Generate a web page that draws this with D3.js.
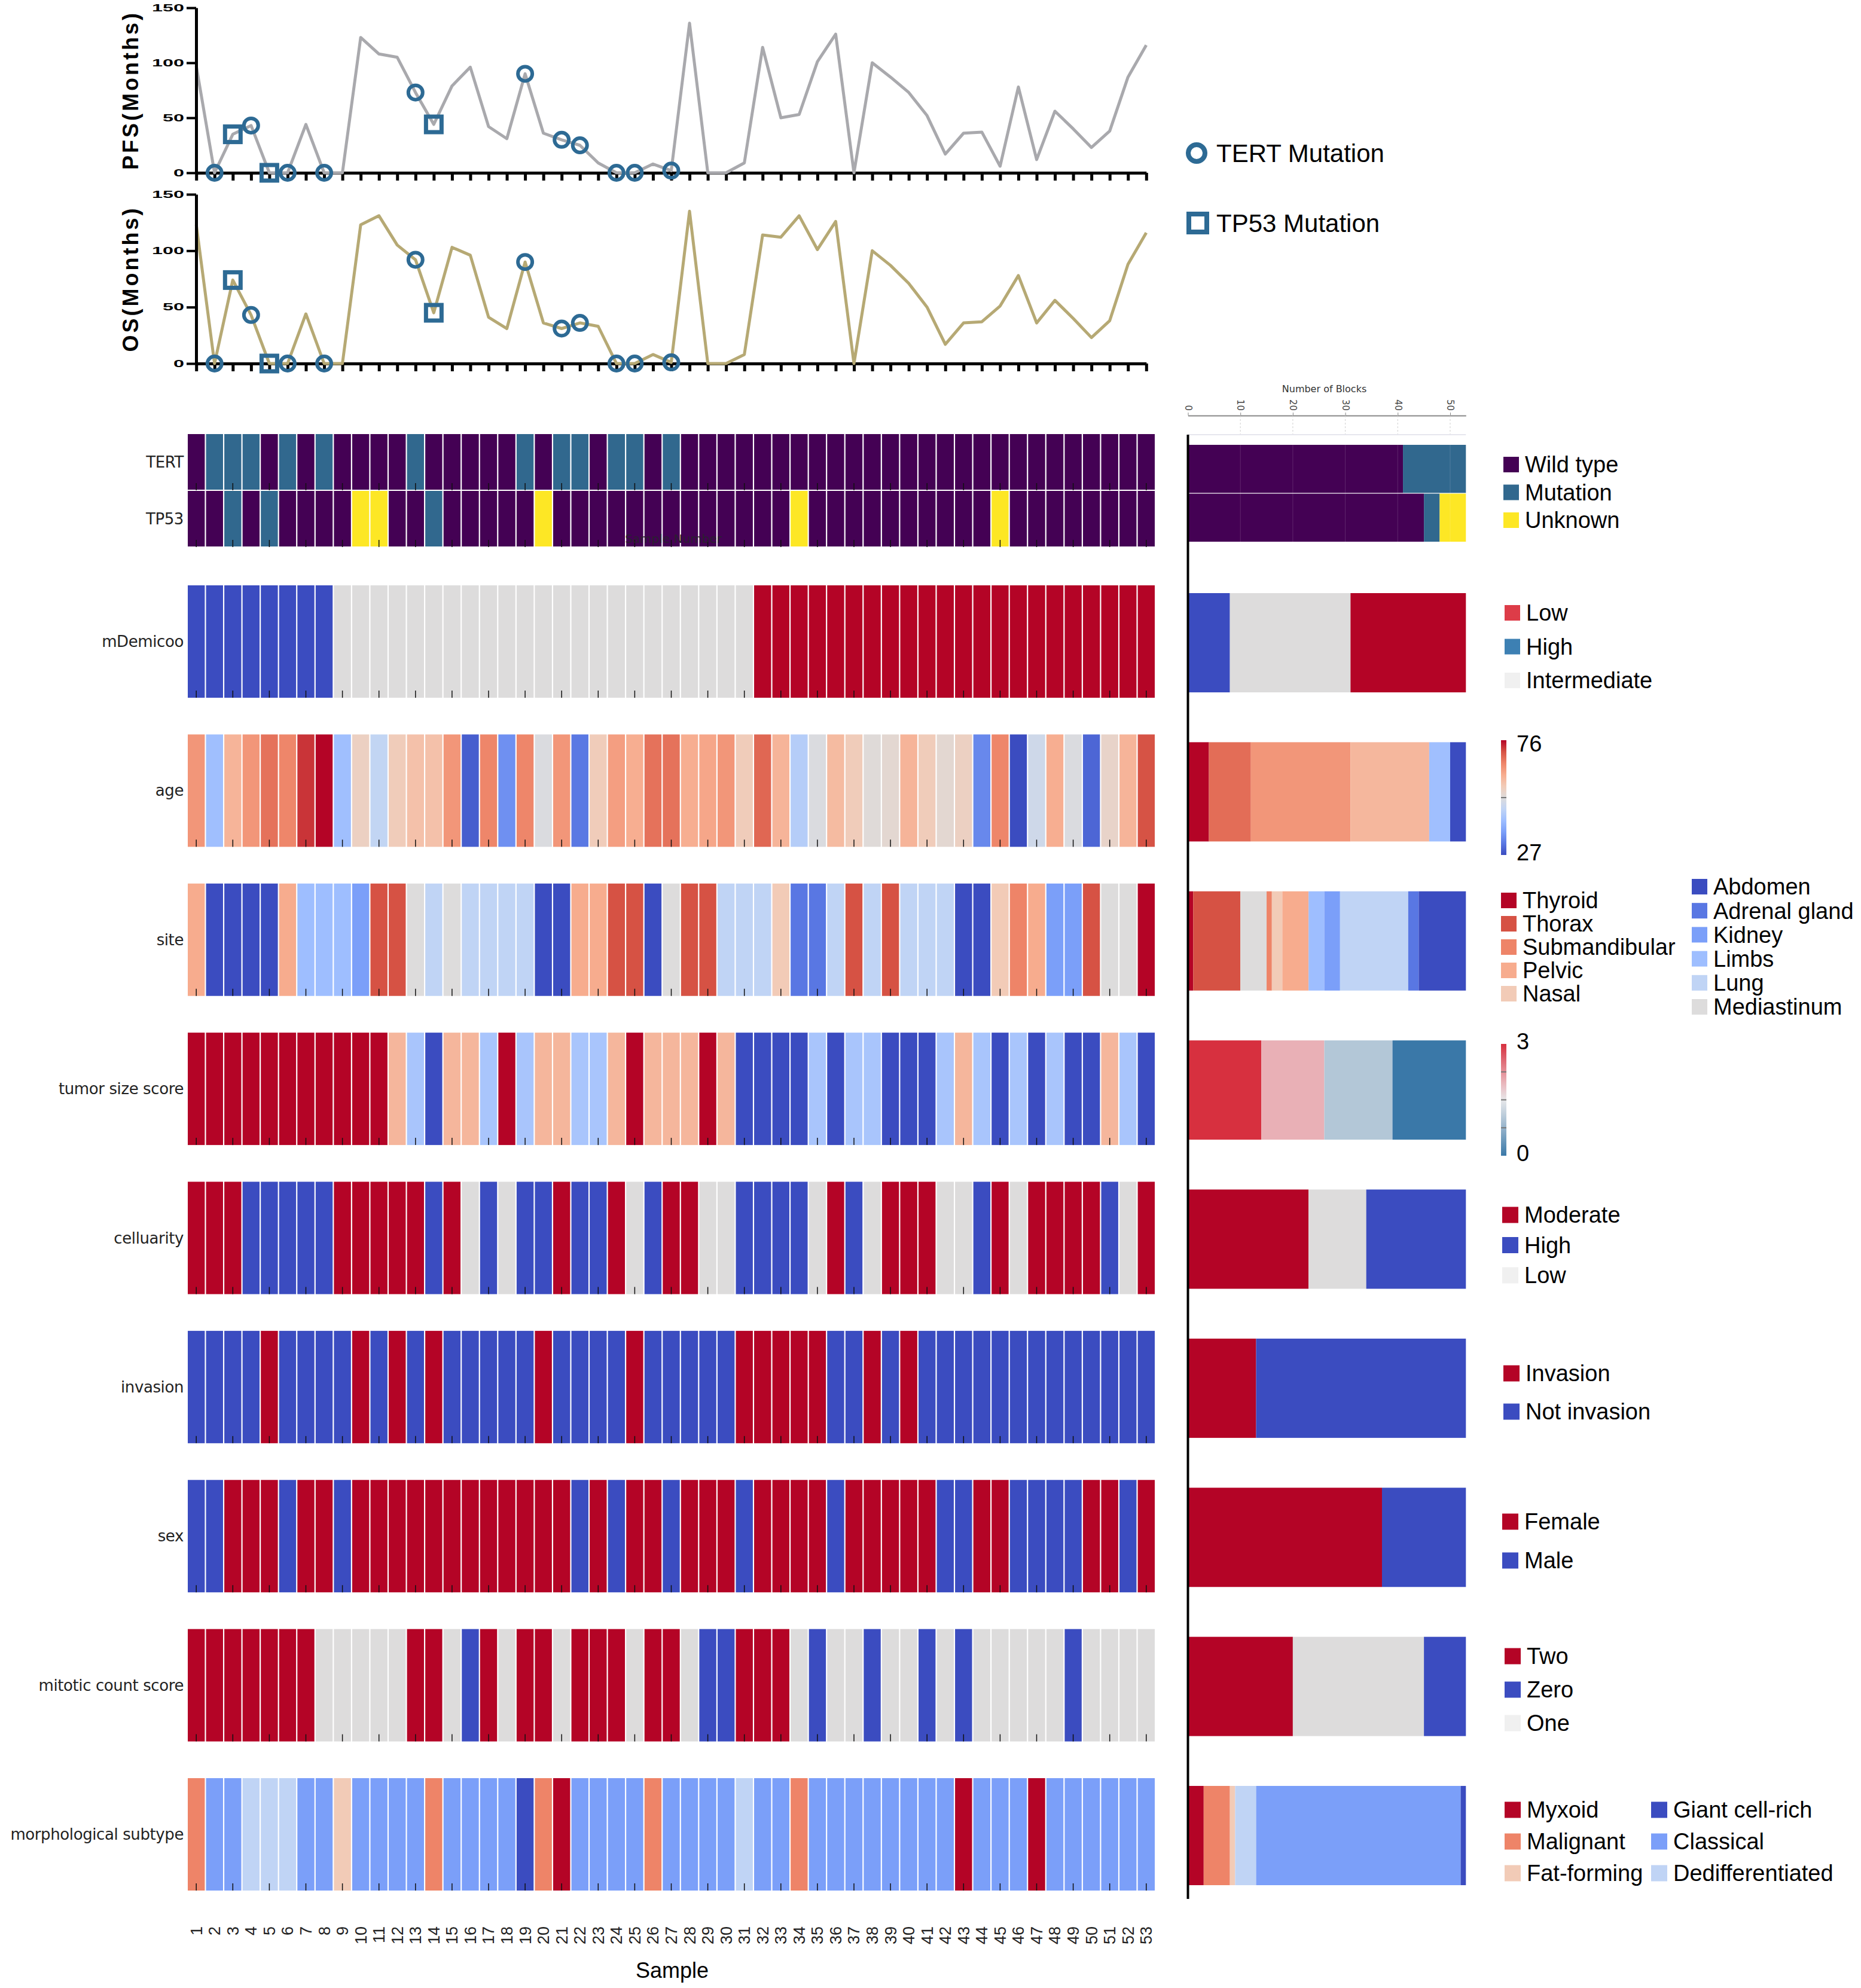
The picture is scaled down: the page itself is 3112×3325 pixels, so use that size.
<!DOCTYPE html>
<html>
<head>
<meta charset="utf-8">
<script src="https://cdn.jsdelivr.net/npm/d3@7"></script>
<style>
body { margin: 0; background: #fff; }
svg { display: block; }
</style>
</head>
<body>
<script>
// ---- data ----
var samples = ["1","2","3","4","5","6","7","8","9","10","11","12","13","14","15","16","17","18","19","20",
  "21","22","23","24","25","26","27","28","29","30","31","32","33","34","35","36","37","38","39","40",
  "41","42","43","44","45","46","47","48","49","50","51","52","53"];

var pfs = [97,0,35,43,0,0,44,0,0,123, 108,105,73,44,79,96,42,31,90,36, 30,25,9,0,0,8,2,136,0,0,
  9,114,50,53,101,126,0,100,87,73, 52,17,36,37,6,78,12,56,40,23, 38,87,116];
var os = [123,0,74,43,0,0,44,0,0,123, 131,105,92,45,103,96,41,31,90,36, 31,36,33,0,0,8,1,135,0,0,
  8,114,112,131,101,126,0,100,87,71, 50,17,36,37,51,78,36,56,40,23, 38,88,116];
var tertMarkers = [2,4,6,8,13,19,21,22,24,25,27];
var tp53Markers = [3,5,14];

var mutationLevels = ["Wild type","Mutation","Unknown"];
var tert = [0,1,1,1,0,1,0,1,0,0, 0,0,1,0,0,0,0,0,1,0, 1,1,0,1,1,0,1,0,0,0, 0,0,0,0,0,0,0,0,0,0, 0,0,0,0,0,0,0,0,0,0, 0,0,0];
var tp53 = [0,0,1,0,1,0,0,0,0,2, 2,0,0,1,0,0,0,0,0,2, 0,0,0,0,0,0,0,0,0,0, 0,0,0,2,0,0,0,0,0,0, 0,0,0,0,2,0,0,0,0,0, 0,0,0];

var mdemicooLevels = ["Low","High","Intermediate"];
var mdemicoo = [1,1,1,1,1,1,1,1,2,2, 2,2,2,2,2,2,2,2,2,2, 2,2,2,2,2,2,2,2,2,2, 2,0,0,0,0,0,0,0,0,0, 0,0,0,0,0,0,0,0,0,0, 0,0,0];

var age = [64,42,60,64,68,66,73,76,42,55, 47,56,58,58,64,29,66,35,66,51, 64,32,56,63,61,68,68,61,62,64,
  56,69,60,45,51,59,56,52,53,60, 56,53,55,34,66,27,49,61,51,30, 54,60,71];
var ageRange = [27, 76];
var ageBarValues = [76, 68.5, 64, 59.5, 42, 27];
var ageBarCounts = [4, 8, 19, 15, 4, 3];

var siteLevels = ["Abdomen","Adrenal gland","Kidney","Limbs","Lung","Mediastinum","Nasal","Pelvic","Submandibular","Thorax","Thyroid"];
var site = [7,0,0,0,0,7,3,3,3,2, 9,9,5,4,5,4,4,4,4,0, 0,7,7,9,9,0,5,9,9,4, 4,4,6,1,1,4,9,4,9,4, 4,4,0,0,6,8,7,2,2,9, 5,5,10];
var siteBarOrder = [10,9,5,8,6,7,3,2,4,1,0];

var tumorSize = [3,3,3,3,3,3,3,3,3,3, 3,2,1,0,2,2,1,3,1,2, 2,1,1,2,3,2,2,2,3,2, 0,0,0,0,1,0,1,1,0,0, 0,1,2,1,0,1,0,1,0,0, 2,1,0];

var celluarityLevels = ["Moderate","High","Low"];
var celluarity = [0,0,0,1,1,1,1,1,0,0, 0,0,0,1,0,2,1,2,1,1, 0,1,1,0,2,1,0,0,2,2, 1,1,1,1,2,0,1,2,0,0, 0,2,2,1,0,2,0,0,0,0, 1,2,0];

var invasionLevels = ["Invasion","Not invasion"];
var invasion = [1,1,1,1,0,1,1,1,1,0, 1,0,1,0,1,1,1,1,1,0, 1,1,1,1,0,1,1,1,1,1, 0,0,0,0,0,1,1,0,1,0, 1,1,1,1,1,1,1,1,1,1, 1,1,1];

var sexLevels = ["Female","Male"];
var sex = [1,1,0,0,0,1,0,0,1,0, 0,0,0,0,0,0,0,0,0,0, 0,1,0,1,0,0,1,0,0,0, 1,0,0,0,0,1,0,0,0,0, 0,1,1,0,0,1,1,1,1,0, 0,1,0];

var mitoticLevels = ["Two","Zero","One"];
var mitotic = [0,0,0,0,0,0,0,2,2,2, 2,2,0,0,2,1,0,2,0,0, 2,0,0,0,2,0,0,2,1,1, 0,0,0,2,1,2,2,1,2,2, 1,2,1,2,2,2,2,2,1,2, 2,2,2];

var morphLevels = ["Giant cell-rich","Classical","Dedifferentiated","Fat-forming","Malignant","Myxoid"];
var morph = [4,1,1,2,2,2,1,1,3,1, 1,1,1,4,1,1,1,1,0,4, 5,1,1,1,1,4,1,1,1,1, 2,1,1,4,1,1,1,1,1,1, 1,1,5,1,1,1,5,1,1,1, 1,1,1];

// ---- colours ----
var RED = "#b40426", BLUE = "#3b4cc0", GREY = "#dddcdc";
var coolwarm = d3.piecewise(d3.interpolateRgb, ["#3b4cc0","#5977e3","#7b9ff9","#9ebeff","#c0d4f5","#dddcdc",
  "#f2cbb7","#f7ac8e","#ee8468","#d65244","#b40426"]);
var geneColors = ["#440154","#31688e","#fde725"];
var tumorBarColor = d3.scaleLinear().domain([0,1,1.5,2,3])
  .range(["#3a78a8","#b3c7d7","#e8e8ea","#e9b0b6","#d7303f"]);
var markColor = "#2d6a94";
var FONT = "'Liberation Sans', Arial, sans-serif";
var LABELFONT = "'DejaVu Sans', sans-serif";

var svg = d3.select("body").append("svg")
    .attr("width", 3112)
    .attr("height", 3325)
    .style("font-family", FONT);
svg.append("rect").attr("width", 3112).attr("height", 3325).attr("fill", "#fff");

var defs = svg.append("defs");

// sample positions shared by the survival panels and the heatmap
var x = d3.scaleBand().domain(samples).range([314, 1931]).paddingInner(0.07);
function xc(s) { return x(s) + x.bandwidth() / 2; }
var xp = d3.scalePoint().domain(samples).range([xc(samples[0]), xc(samples[samples.length - 1])]);

// ---- survival panels ----
function survival(values, top, bottom, color, label) {
    var y = d3.scaleLinear().domain([0, 150]).range([bottom, top]);
    var g = svg.append("g");

    var xa = g.append("g")
        .attr("transform", "translate(0," + bottom + ")")
        .call(d3.axisBottom(xp).tickSize(13).tickSizeOuter(0).tickFormat(""));
    xa.select(".domain").attr("stroke-width", 5);
    xa.selectAll(".tick line").attr("stroke-width", 5);

    g.append("path")
        .datum(values)
        .attr("fill", "none")
        .attr("stroke", color)
        .attr("stroke-width", 5)
        .attr("stroke-linejoin", "round")
        .attr("d", d3.line()
            .x(function(d, i) { return xp(samples[i]); })
            .y(function(d) { return y(d); }));

    var ya = g.append("g")
        .attr("transform", "translate(328,0)")
        .call(d3.axisLeft(y).tickValues([0, 50, 100, 150]).tickSize(16).tickSizeOuter(0).tickPadding(4));
    ya.attr("font-family", FONT);
    ya.select(".domain").attr("stroke-width", 5);
    ya.selectAll(".tick line").attr("stroke-width", 4);
    ya.selectAll("text")
        .attr("font-size", 16)
        .attr("font-weight", "bold")
        .attr("fill", "#000")
        .attr("textLength", function(d) { return String(d).length * 18; })
        .attr("lengthAdjust", "spacingAndGlyphs");

    g.selectAll(".tert-mark")
        .data(tertMarkers)
        .enter().append("circle")
        .attr("cx", function(d) { return xp(samples[d - 1]); })
        .attr("cy", function(d) { return y(values[d - 1]); })
        .attr("r", 12)
        .attr("fill", "none")
        .attr("stroke", markColor)
        .attr("stroke-width", 6);

    g.selectAll(".tp53-mark")
        .data(tp53Markers)
        .enter().append("rect")
        .attr("x", function(d) { return xp(samples[d - 1]) - 13; })
        .attr("y", function(d) { return y(values[d - 1]) - 13; })
        .attr("width", 26)
        .attr("height", 26)
        .attr("fill", "none")
        .attr("stroke", markColor)
        .attr("stroke-width", 7);

    g.append("text")
        .attr("transform", "translate(218," + (top + bottom) / 2 + ") rotate(-90)")
        .attr("text-anchor", "middle")
        .attr("dy", "0.35em")
        .attr("font-size", 36)
        .attr("font-weight", "bold")
        .attr("letter-spacing", 4)
        .text(label);
}
survival(pfs, 13, 289, "#a9a9ad", "PFS(Months)");
survival(os, 325, 608, "#b6a974", "OS(Months)");

// marker legend
svg.append("circle").attr("cx", 2001).attr("cy", 256).attr("r", 14)
    .attr("fill", "none").attr("stroke", markColor).attr("stroke-width", 8);
svg.append("text").attr("x", 2034).attr("y", 256).attr("dy", "0.35em")
    .attr("font-size", 42).text("TERT Mutation");
svg.append("rect").attr("x", 1988).attr("y", 358).attr("width", 30).attr("height", 30)
    .attr("fill", "none").attr("stroke", markColor).attr("stroke-width", 8);
svg.append("text").attr("x", 2034).attr("y", 373).attr("dy", "0.35em")
    .attr("font-size", 42).text("TP53 Mutation");

// ---- heatmap ----
var geneRows = ["TERT", "TP53"];
var rowNames = ["mDemicoo", "age", "site", "tumor size score", "celluarity", "invasion", "sex",
    "mitotic count score", "morphological subtype"];
var yGene = d3.scaleBand().domain(geneRows).range([725, 915]);
var yRow = d3.scaleBand().domain(rowNames).range([979, 3162]).paddingInner(0.2462);

var rows = [
    { name: "TERT", band: yGene, values: tert, color: function(v) { return geneColors[v]; } },
    { name: "TP53", band: yGene, values: tp53, color: function(v) { return geneColors[v]; } },
    { name: "mDemicoo", band: yRow, values: mdemicoo, color: function(v) { return [RED, BLUE, GREY][v]; } },
    { name: "age", band: yRow, values: age, color: function(v) { return coolwarm((v - ageRange[0]) / (ageRange[1] - ageRange[0])); } },
    { name: "site", band: yRow, values: site, color: function(v) { return coolwarm(v / 10); } },
    { name: "tumor size score", band: yRow, values: tumorSize, color: function(v) { return coolwarm(v / 3); } },
    { name: "celluarity", band: yRow, values: celluarity, color: function(v) { return [RED, BLUE, GREY][v]; } },
    { name: "invasion", band: yRow, values: invasion, color: function(v) { return [RED, BLUE][v]; } },
    { name: "sex", band: yRow, values: sex, color: function(v) { return [RED, BLUE][v]; } },
    { name: "mitotic count score", band: yRow, values: mitotic, color: function(v) { return [RED, BLUE, GREY][v]; } },
    { name: "morphological subtype", band: yRow, values: morph, color: function(v) { return coolwarm(v / 5); } }
];

rows.forEach(function(r) {
    var g = svg.append("g");
    var top = r.band(r.name);
    var h = r.band.bandwidth();
    var inset = r.band === yGene ? 1 : 0;
    g.selectAll("rect")
        .data(r.values)
        .enter().append("rect")
        .attr("x", function(d, i) { return x(samples[i]); })
        .attr("y", top + inset)
        .attr("width", x.bandwidth())
        .attr("height", h - 2 * inset)
        .attr("fill", r.color);
    g.selectAll("line")
        .data(samples.filter(function(s, i) { return i % 2 === 0; }))
        .enter().append("line")
        .attr("x1", xc).attr("x2", xc)
        .attr("y1", top + h - 12).attr("y2", top + h)
        .attr("stroke", "#111")
        .attr("stroke-width", 1.5);
    g.append("text")
        .attr("x", 307)
        .attr("y", top + h / 2)
        .attr("dy", "0.35em")
        .attr("text-anchor", "end")
        .attr("font-family", LABELFONT)
        .attr("font-size", 26)
        .attr("letter-spacing", -0.4)
        .attr("fill", "#222")
        .text(r.name);
});

svg.append("text")
    .attr("x", 1126).attr("y", 901).attr("dy", "0.35em")
    .attr("text-anchor", "middle")
    .attr("font-family", LABELFONT)
    .attr("font-size", 20)
    .attr("fill", "#2a2030")
    .text("Sample Number");

// sample axis
var sa = svg.append("g")
    .attr("transform", "translate(0,3210)")
    .call(d3.axisBottom(x).tickSize(0));
sa.attr("font-family", FONT);
sa.select(".domain").remove();
sa.selectAll("text")
    .attr("transform", "rotate(-90)")
    .attr("x", -12)
    .attr("y", 0)
    .attr("dy", "0.35em")
    .attr("font-size", 27)
    .attr("fill", "#222")
    .style("text-anchor", "end");
svg.append("text")
    .attr("x", 1124).attr("y", 3308)
    .attr("text-anchor", "middle")
    .attr("font-size", 36)
    .text("Sample");

// ---- summary bars (right) ----
var xs = d3.scaleLinear().domain([0, 53]).range([1986.5, 2451.3]);
var ta = svg.append("g")
    .attr("transform", "translate(0,695)")
    .call(d3.axisTop(xs).tickValues([0, 10, 20, 30, 40, 50]).tickSize(5).tickSizeOuter(0));
ta.attr("font-family", LABELFONT);
ta.select(".domain").attr("stroke", "#888").attr("stroke-width", 2);
ta.selectAll(".tick line").attr("stroke", "#888");
ta.selectAll("text")
    .attr("transform", "rotate(90)")
    .attr("x", -8)
    .attr("y", 0)
    .attr("dy", "0.35em")
    .attr("font-size", 15)
    .attr("fill", "#444")
    .style("text-anchor", "end");
svg.append("text")
    .attr("x", xs(26)).attr("y", 656)
    .attr("text-anchor", "middle")
    .attr("font-family", LABELFONT)
    .attr("font-size", 16)
    .attr("fill", "#333")
    .text("Number of Blocks");
svg.selectAll(".grid")
    .data([10, 20, 30, 40, 50])
    .enter().append("line")
    .attr("x1", xs).attr("x2", xs)
    .attr("y1", 695).attr("y2", 727)
    .attr("stroke", "#cfcfcf")
    .attr("stroke-dasharray", "3,3");
svg.append("line")
    .attr("x1", xs(0)).attr("x2", xs(53))
    .attr("y1", 727).attr("y2", 727)
    .attr("stroke", "#e6e6ee").attr("stroke-width", 2);

function segments(counts, colors, top, h) {
    var g = svg.append("g");
    var cum = 0;
    counts.forEach(function(n, i) {
        g.append("rect")
            .attr("x", xs(cum))
            .attr("y", top)
            .attr("width", xs(cum + n) - xs(cum))
            .attr("height", h)
            .attr("fill", colors[i]);
        cum += n;
    });
    return g;
}
function countOf(values, k) {
    return values.filter(function(v) { return v === k; }).length;
}
function catBar(values, order, colorOf, top, h) {
    return segments(order.map(function(k) { return countOf(values, k); }),
        order.map(colorOf), top, h);
}

var yGeneBar = d3.scaleBand().domain(geneRows).range([744, 906]).paddingInner(0.015);
var geneOrder = [0, 1, 2];
catBar(tert, geneOrder, function(k) { return geneColors[k]; }, yGeneBar("TERT"), yGeneBar.bandwidth());
catBar(tp53, geneOrder, function(k) { return geneColors[k]; }, yGeneBar("TP53"), yGeneBar.bandwidth());
svg.selectAll(".ggrid")
    .data([10, 20, 30, 40, 50])
    .enter().append("line")
    .attr("x1", xs).attr("x2", xs)
    .attr("y1", 744).attr("y2", 906)
    .attr("stroke", "#ffffff").attr("stroke-opacity", 0.15);

function barTop(name) { return yRow(name) + 13; }
var BAR_H = 166;
catBar(mdemicoo, [1, 2, 0], function(k) { return [RED, BLUE, GREY][k]; }, barTop("mDemicoo"), BAR_H);
segments(ageBarCounts, ageBarValues.map(function(v) {
    return coolwarm((v - ageRange[0]) / (ageRange[1] - ageRange[0]));
}), barTop("age"), BAR_H);
catBar(site, siteBarOrder, function(k) { return coolwarm(k / 10); }, barTop("site"), BAR_H);
catBar(tumorSize, [3, 2, 1, 0], tumorBarColor, barTop("tumor size score"), BAR_H);
catBar(celluarity, [0, 2, 1], function(k) { return [RED, BLUE, GREY][k]; }, barTop("celluarity"), BAR_H);
catBar(invasion, [0, 1], function(k) { return [RED, BLUE][k]; }, barTop("invasion"), BAR_H);
catBar(sex, [0, 1], function(k) { return [RED, BLUE][k]; }, barTop("sex"), BAR_H);
catBar(mitotic, [0, 2, 1], function(k) { return [RED, BLUE, GREY][k]; }, barTop("mitotic count score"), BAR_H);
catBar(morph, [5, 4, 3, 2, 1, 0], function(k) { return coolwarm(k / 5); }, barTop("morphological subtype"), BAR_H);

svg.append("line")
    .attr("x1", 1986.5).attr("x2", 1986.5)
    .attr("y1", 727).attr("y2", 3176)
    .attr("stroke", "#000").attr("stroke-width", 4);

// ---- legends ----
function legend(labels, colors, x0, y0, step, size) {
    var g = svg.append("g");
    labels.forEach(function(l, i) {
        var cy = y0 + i * step;
        g.append("rect")
            .attr("x", x0).attr("y", cy - size / 2)
            .attr("width", size).attr("height", size)
            .attr("fill", colors[i]);
        g.append("text")
            .attr("x", x0 + size + 10).attr("y", cy)
            .attr("dy", "0.35em")
            .attr("font-size", 38)
            .attr("fill", "#000")
            .text(l);
    });
}
legend(mutationLevels, geneColors, 2514, 777, 46.5, 26);
legend(mdemicooLevels, ["#dd3c48", "#3d80b3", "#f0f0f0"], 2516, 1025, 56.5, 26);
var siteCol1 = ["Thyroid", "Thorax", "Submandibular", "Pelvic", "Nasal"];
var siteCol2 = ["Abdomen", "Adrenal gland", "Kidney", "Limbs", "Lung", "Mediastinum"];
legend(siteCol1, siteCol1.map(function(l) { return coolwarm(siteLevels.indexOf(l) / 10); }), 2510, 1506, 39, 26);
legend(siteCol2, siteCol2.map(function(l) { return coolwarm(siteLevels.indexOf(l) / 10); }), 2829, 1483, 40.2, 26);
legend(celluarityLevels, [RED, BLUE, "#f0f0f0"], 2512, 2032, 50.5, 27);
legend(invasionLevels, [RED, BLUE], 2514, 2297, 64, 27);
legend(sexLevels, [RED, BLUE], 2512, 2545, 65, 27);
legend(mitoticLevels, [RED, BLUE, "#f0f0f0"], 2516, 2770, 56, 27);
var morphCol1 = ["Myxoid", "Malignant", "Fat-forming"];
var morphCol2 = ["Giant cell-rich", "Classical", "Dedifferentiated"];
legend(morphCol1, morphCol1.map(function(l) { return coolwarm(morphLevels.indexOf(l) / 5); }), 2516, 3027, 53, 27);
legend(morphCol2, morphCol2.map(function(l) { return coolwarm(morphLevels.indexOf(l) / 5); }), 2761, 3027, 53, 27);

// colour bars
function colorbar(id, interp, top, h, labels, topShift) {
    var grad = defs.append("linearGradient").attr("id", id)
        .attr("x1", 0).attr("y1", 0).attr("x2", 0).attr("y2", 1);
    d3.range(0, 1.0001, 0.05).forEach(function(t) {
        grad.append("stop").attr("offset", t).attr("stop-color", interp(t));
    });
    svg.append("rect")
        .attr("x", 2510).attr("y", top)
        .attr("width", 9).attr("height", h)
        .attr("fill", "url(#" + id + ")");
    svg.append("text").attr("x", 2536).attr("y", top + topShift).attr("dy", "0.35em")
        .attr("font-size", 38).text(labels[0]);
    svg.append("text").attr("x", 2536).attr("y", top + h - 4).attr("dy", "0.35em")
        .attr("font-size", 38).text(labels[1]);
}
colorbar("ageGrad", function(t) { return coolwarm(1 - t); }, 1238, 192, [String(ageRange[1]), String(ageRange[0])], 6);
svg.append("line").attr("x1", 2510).attr("x2", 2519).attr("y1", 1334).attr("y2", 1334)
    .attr("stroke", "#777").attr("stroke-width", 2);
colorbar("tumorGrad", function(t) { return tumorBarColor(3 - 3 * t); }, 1746, 187, ["3", "0"], -4);
svg.selectAll(".tt")
    .data([0.25, 0.5, 0.75])
    .enter().append("line")
    .attr("x1", 2510).attr("x2", 2519)
    .attr("y1", function(t) { return 1746 + 187 * t; })
    .attr("y2", function(t) { return 1746 + 187 * t; })
    .attr("stroke", "#777").attr("stroke-width", 2);
</script>
</body>
</html>
